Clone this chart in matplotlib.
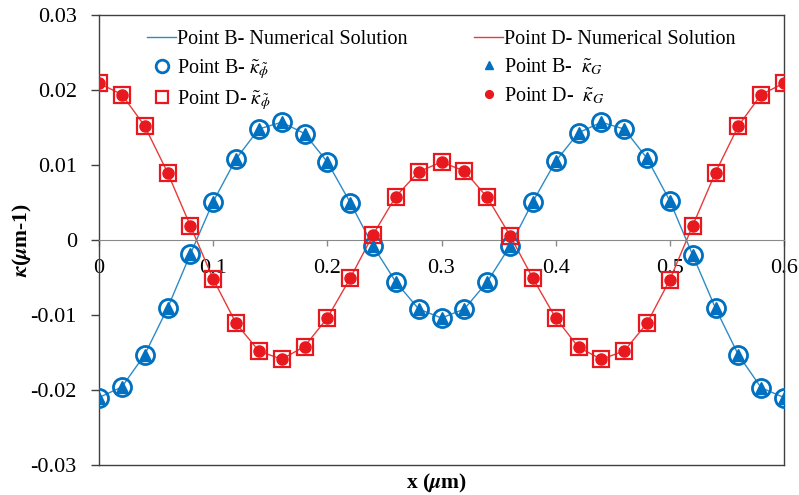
import numpy as np
import matplotlib
matplotlib.use("Agg")
import matplotlib.pyplot as plt

plt.rcParams['font.family'] = ['Liberation Serif', 'DejaVu Serif']
plt.rcParams['mathtext.fontset'] = 'stix'

# x positions (um)
x = [0.00, 0.02, 0.04, 0.06, 0.08, 0.10, 0.12, 0.14, 0.16, 0.18, 0.20,
     0.22, 0.24, 0.26, 0.28, 0.30, 0.32, 0.34, 0.36, 0.38, 0.40, 0.42,
     0.44, 0.46, 0.48, 0.50, 0.52, 0.54, 0.56, 0.58, 0.60]

# point B curvature
kappa_B = [-0.0210, -0.0196, -0.0153, -0.0091, -0.0019, 0.0051, 0.0108,
           0.0148, 0.0157, 0.0142, 0.0104, 0.0050, -0.0008, -0.0056,
           -0.0092, -0.0104, -0.0092, -0.0056, -0.0008, 0.0051, 0.0105,
           0.0143, 0.0157, 0.0148, 0.0109, 0.0052, -0.0020, -0.0091,
           -0.0153, -0.0197, -0.0210]

# point D curvature
kappa_D = [0.0209, 0.0194, 0.0152, 0.0090, 0.0019, -0.0052, -0.0111,
           -0.0148, -0.0159, -0.0142, -0.0104, -0.0051, 0.0007, 0.0058,
           0.0091, 0.0104, 0.0092, 0.0057, 0.0006, -0.0051, -0.0104,
           -0.0143, -0.0159, -0.0148, -0.0111, -0.0053, 0.0019, 0.0090,
           0.0152, 0.0194, 0.0209]

blue = '#0070C0'
blue_line = '#2E8BC6'
red = '#E8191E'
red_line = '#E83A3A'

fig = plt.figure(figsize=(7.99, 4.95), dpi=100)
ax = fig.add_axes([99/799, 1-465/495, (784-99)/799, 450/495])

l1, = ax.plot(x, kappa_B, color=blue_line, lw=1.0, label='Point B- Numerical Solution', zorder=2)
l2, = ax.plot(x, kappa_D, color=red_line, lw=1.0, label='Point D- Numerical Solution', zorder=2)
m1, = ax.plot(x, kappa_B, ls='none', marker='o', ms=13, mfc='none', mec=blue, mew=2.0,
              label=r'Point B- $\tilde{\kappa}_{\tilde{\phi}}$', zorder=3)
m3, = ax.plot(x, kappa_D, ls='none', marker='s', ms=12, mfc='none', mec=red, mew=1.6,
              label=r'Point D- $\tilde{\kappa}_{\tilde{\phi}}$', zorder=3)
m2, = ax.plot(x, kappa_B, ls='none', marker='^', ms=8, color=blue,
              label=r'Point B-  $\tilde{\kappa}_{G}$', zorder=4)
m4, = ax.plot(x, kappa_D, ls='none', marker='o', ms=8, color=red,
              label=r'Point D-  $\tilde{\kappa}_{G}$', zorder=4)

ax.set_xlim(0, 0.6)
ax.set_ylim(-0.03, 0.03)
ax.set_xticks([0, 0.1, 0.2, 0.3, 0.4, 0.5, 0.6])
ax.set_xticklabels(['0', '0.1', '0.2', '0.3', '0.4', '0.5', '0.6'])
ax.set_yticks([-0.03, -0.02, -0.01, 0, 0.01, 0.02, 0.03])
ax.set_yticklabels(['-0.03', '-0.02', '-0.01', '0', '0.01', '0.02', '0.03'])

axis_col = '#404040'
ax.spines['bottom'].set_position(('data', 0))
ax.spines['bottom'].set_color('#8a8a8a')
for s in ['left', 'top', 'right']:
    ax.spines[s].set_color(axis_col)
    ax.spines[s].set_linewidth(1.0)
ax.plot([0, 1], [0, 0], transform=ax.transAxes, color=axis_col, lw=1.0, clip_on=False)

ax.tick_params(axis='y', direction='out', length=6, width=1, color=axis_col,
               labelsize=16, pad=10)
ax.tick_params(axis='x', direction='out', length=4, width=1, color='#8a8a8a',
               labelsize=16, pad=10)

fig.text(22/799, 1-240/495, r'$\boldsymbol{\kappa}$($\boldsymbol{\mu}$m-1)', fontsize=15.5,
         fontweight='bold', rotation=90, ha='center', va='center')
fig.text(436/799, 1-483/495, r'x ($\boldsymbol{\mu}$m)', fontsize=15.5, fontweight='bold',
         ha='center', va='center')

handles = [l1, m1, m3, l2, m2, m4]
ax.legend(handles=handles, ncol=2, loc='upper left', bbox_to_anchor=(147/799, 1-30/495),
          bbox_transform=fig.transFigure, frameon=False, fontsize=14.5, handlelength=1.45,
          handletextpad=0.05, columnspacing=3.3, labelspacing=0.38, borderpad=0,
          markerscale=0.7, borderaxespad=0)

fig.savefig('out.png', dpi=100)
